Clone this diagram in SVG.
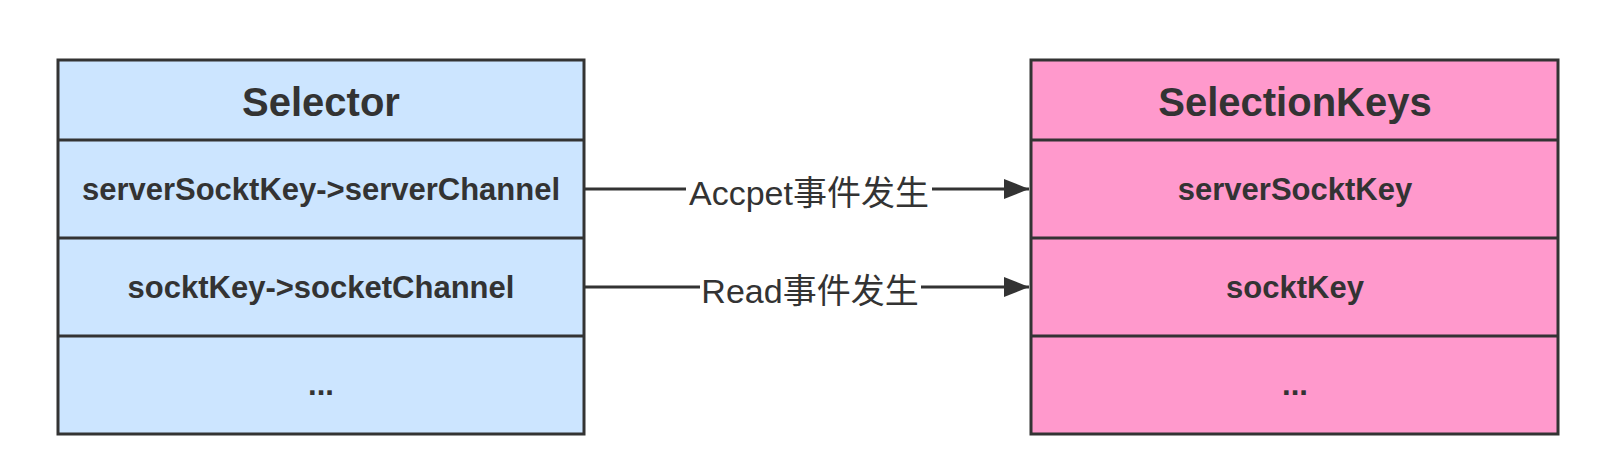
<svg xmlns="http://www.w3.org/2000/svg" width="1599" height="475" viewBox="0 0 1599 475">
<style>
.box{stroke:#333333;stroke-width:3}
.blue{fill:#cce5ff}
.pink{fill:#ff99cc}
.div{stroke:#333333;stroke-width:3}
.hdr{font-family:"Liberation Sans",Arial,sans-serif;font-weight:bold;font-size:40px;fill:#333333;text-anchor:middle}
.row{font-family:"Liberation Sans",Arial,sans-serif;font-weight:bold;font-size:31px;fill:#333333;text-anchor:middle}
.lbl{font-family:"Liberation Sans","Noto Sans CJK SC",sans-serif;font-size:34px;fill:#333333;text-anchor:middle}
.edge{stroke:#333333;stroke-width:3;fill:none}
</style>
<defs>
<marker id="arr" markerUnits="userSpaceOnUse" markerWidth="26" markerHeight="20" refX="25" refY="10" orient="auto">
<path d="M0,0 L25,10 L0,20 Z" fill="#333333"/>
</marker>
</defs>
<rect width="1599" height="475" fill="#ffffff"/>
<g id="selector">
<rect class="box blue" x="58" y="60" width="526" height="374"/>
<line class="div" x1="58" y1="140" x2="584" y2="140"/>
<line class="div" x1="58" y1="238" x2="584" y2="238"/>
<line class="div" x1="58" y1="336" x2="584" y2="336"/>
<text class="hdr" x="321" y="116">Selector</text>
<text class="row" x="321" y="200">serverSocktKey-&gt;serverChannel</text>
<text class="row" x="321" y="298">socktKey-&gt;socketChannel</text>
<text class="row" x="321" y="395">...</text>
</g>
<g id="selectionkeys">
<rect class="box pink" x="1031" y="60" width="527" height="374"/>
<line class="div" x1="1031" y1="140" x2="1558" y2="140"/>
<line class="div" x1="1031" y1="238" x2="1558" y2="238"/>
<line class="div" x1="1031" y1="336" x2="1558" y2="336"/>
<text class="hdr" x="1295" y="116">SelectionKeys</text>
<text class="row" x="1295" y="200">serverSocktKey</text>
<text class="row" x="1295" y="298">socktKey</text>
<text class="row" x="1295" y="395">...</text>
</g>
<g id="connectors">
<g id="edge-accept">
<line class="edge" x1="585" y1="189" x2="1029" y2="189" marker-end="url(#arr)"/>
<rect x="686" y="172" width="246" height="38" fill="#ffffff"/>
<text class="lbl" x="809" y="205">Accpet事件发生</text>
</g>
<g id="edge-read">
<line class="edge" x1="585" y1="287" x2="1029" y2="287" marker-end="url(#arr)"/>
<rect x="700" y="270" width="221" height="38" fill="#ffffff"/>
<text class="lbl" x="810" y="303">Read事件发生</text>
</g>
</g>
</svg>
